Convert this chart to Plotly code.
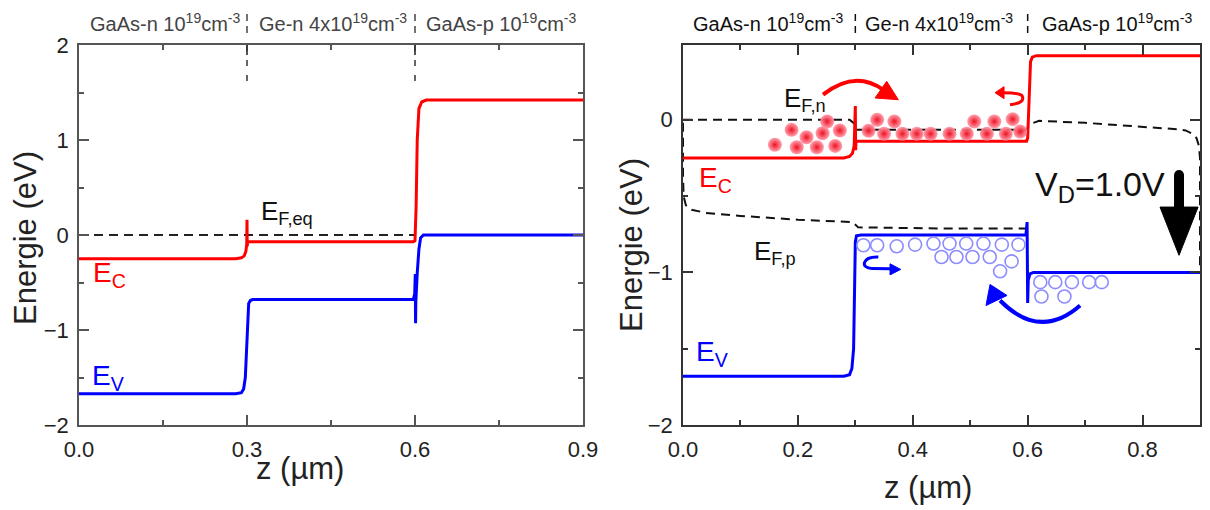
import plotly.graph_objects as go

# ---------------- data: left panel (equilibrium) ----------------
z_ec_eq = [0.0, 0.28, 0.29, 0.295, 0.298, 0.2995, 0.3, 0.3004, 0.301, 0.303, 0.597, 0.600, 0.602, 0.604, 0.607, 0.612, 0.62, 0.9]
e_ec_eq = [-0.25, -0.25, -0.24, -0.22, -0.17, -0.10, 0.16, -0.12, -0.075, -0.07, -0.07, -0.06, 0.3, 1.0, 1.33, 1.40, 1.42, 1.42]
z_ev_eq = [0.0, 0.28, 0.29, 0.294, 0.297, 0.299, 0.301, 0.303, 0.306, 0.31, 0.597, 0.5995, 0.6005, 0.601, 0.6015, 0.604, 0.607, 0.61, 0.615, 0.9]
e_ev_eq = [-1.67, -1.67, -1.66, -1.62, -1.50, -1.20, -0.85, -0.72, -0.69, -0.68, -0.68, -0.62, -0.41, -0.93, -0.70, -0.40, -0.15, -0.03, 0.0, 0.0]
z_ef_eq = [0.0, 0.6]
e_ef_eq = [0.0, 0.0]

# ---------------- data: right panel (V_D = 1.0 V) ----------------
z_ec_b = [0.0, 0.28, 0.29, 0.295, 0.298, 0.2995, 0.3, 0.3005, 0.301, 0.303, 0.598, 0.600, 0.6015, 0.603, 0.605, 0.608, 0.615, 0.9]
e_ec_b = [-0.25, -0.25, -0.24, -0.22, -0.17, -0.05, 0.09, -0.20, -0.15, -0.14, -0.14, -0.12, 0.05, 0.30, 0.38, 0.41, 0.42, 0.42]
z_ev_b = [0.0, 0.28, 0.29, 0.294, 0.297, 0.299, 0.3, 0.302, 0.31, 0.597, 0.599, 0.6, 0.601, 0.604, 0.61, 0.9]
e_ev_b = [-1.68, -1.68, -1.67, -1.63, -1.50, -1.10, -0.80, -0.76, -0.755, -0.755, -0.67, -1.20, -1.05, -1.01, -1.0, -1.0]
z_efn = [0.0, 0.29, 0.3, 0.302, 0.45, 0.598, 0.603, 0.62, 0.7, 0.8, 0.86, 0.875, 0.886, 0.894, 0.898, 0.9, 0.9]
e_efn = [0.0, 0.0, -0.03, -0.066, -0.066, -0.066, -0.03, -0.007, -0.02, -0.045, -0.062, -0.07, -0.09, -0.12, -0.17, -0.25, -1.0]
z_efp = [0.6, 0.45, 0.305, 0.295, 0.2, 0.1, 0.04, 0.015, 0.005, 0.001, 0.0, 0.0]
e_efp = [-0.713, -0.712, -0.705, -0.67, -0.655, -0.63, -0.61, -0.59, -0.56, -0.50, -0.35, 0.0]

electron_z = [0.160, 0.189, 0.198, 0.215, 0.233, 0.243, 0.251, 0.265, 0.273, 0.323, 0.338, 0.350, 0.368,
              0.382, 0.407, 0.431, 0.464, 0.494, 0.507, 0.529, 0.542, 0.562, 0.574, 0.587]
electron_e = [-0.164, -0.066, -0.180, -0.114, -0.180, -0.088, -0.011, -0.171, -0.070, -0.072, 0.0, -0.092, -0.011,
              -0.092, -0.092, -0.092, -0.092, -0.092, -0.011, -0.092, -0.011, -0.092, 0.004, -0.077]
hole_z = [0.314, 0.338, 0.372, 0.404, 0.436, 0.464, 0.493, 0.523, 0.555, 0.584,
          0.450, 0.476, 0.504, 0.534, 0.572, 0.552,
          0.622, 0.648, 0.677, 0.707, 0.729, 0.624, 0.664]
hole_e = [-0.822, -0.822, -0.829, -0.818, -0.811, -0.811, -0.811, -0.811, -0.818, -0.818,
          -0.899, -0.899, -0.899, -0.899, -0.928, -0.993,
          -1.064, -1.064, -1.064, -1.064, -1.064, -1.158, -1.158]

region_labels = ["GaAs-n 10<sup>19</sup>cm<sup>-3</sup>",
                 "Ge-n 4x10<sup>19</sup>cm<sup>-3</sup>",
                 "GaAs-p 10<sup>19</sup>cm<sup>-3</sup>"]
region_centers_left = [0.154, 0.454, 0.754]
region_centers_right = [0.148, 0.446, 0.757]
region_bounds = [0.3, 0.6]

x_ticks_left = [0.0, 0.3, 0.6, 0.9]
x_ticks_right = [0.0, 0.2, 0.4, 0.6, 0.8]

# decorative arrows (right panel, data coordinates)
red_arc = [(0.2437, 0.1645), (0.2994, 0.329), (0.3482, 0.197)]
red_arc_head = [(0.3546, 0.252), (0.3748, 0.1316), (0.3343, 0.1428)]
red_u = [(0.5693, 0.0987), (0.5971, 0.1118), (0.5902, 0.1579), (0.5850, 0.1776), (0.5571, 0.1776)]
red_u_head = [(0.5432, 0.1776), (0.5589, 0.2171), (0.5589, 0.1382)]
blue_u = [(0.340, -0.899), (0.3116, -0.8947), (0.3081, -0.9737), (0.3290, -0.9737), (0.3604, -0.9757)]
blue_u_head = [(0.3790, -0.9803), (0.3604, -0.944), (0.3604, -1.0164)]
blue_arc = [(0.6912, -1.2171), (0.6215, -1.4474), (0.5519, -1.1842)]
blue_arc_head = [(0.5345, -1.0789), (0.5275, -1.2171), (0.5641, -1.1513)]
vd_arrow_shaft = [(0.8635, -0.362), (0.8635, -0.60)]
vd_arrow_cap = [(0.8548, -0.395), (0.8722, -0.329)]
vd_arrow_head = [(0.8304, -0.572), (0.8966, -0.572), (0.8635, -0.888)]

FONT = "Arial, Liberation Sans, sans-serif"
RED = "#ff0000"
BLUE = "#0000ff"
W, H = 1210, 510
OFF = 8  # page body margin of the browser
PL = (79 - OFF, 583 - OFF)
PR = (683 - OFF, 1200 - OFF)
PT, PB = 45 - OFF, 425 - OFF


def px(xs):
    return (xs - OFF) / W


def py(ys):
    return 1 - (ys - OFF) / H


fig = go.Figure()

# left panel
fig.add_trace(go.Scatter(x=z_ef_eq, y=e_ef_eq, mode="lines", line=dict(color="#222", width=2, dash="9px,6px"),
                         xaxis="x", yaxis="y", showlegend=False))
fig.add_trace(go.Scatter(x=z_ec_eq, y=e_ec_eq, mode="lines", line=dict(color=RED, width=3),
                         xaxis="x", yaxis="y", showlegend=False))
fig.add_trace(go.Scatter(x=z_ev_eq, y=e_ev_eq, mode="lines", line=dict(color=BLUE, width=3),
                         xaxis="x", yaxis="y", showlegend=False))

# right panel
fig.add_trace(go.Scatter(x=z_efn, y=e_efn, mode="lines", line=dict(color="#111", width=2, dash="9px,6px"),
                         xaxis="x2", yaxis="y2", showlegend=False))
fig.add_trace(go.Scatter(x=z_efp, y=e_efp, mode="lines", line=dict(color="#111", width=2, dash="9px,6px"),
                         xaxis="x2", yaxis="y2", showlegend=False))
fig.add_trace(go.Scatter(x=z_ec_b, y=e_ec_b, mode="lines", line=dict(color=RED, width=3),
                         xaxis="x2", yaxis="y2", showlegend=False))
fig.add_trace(go.Scatter(x=z_ev_b, y=e_ev_b, mode="lines", line=dict(color=BLUE, width=3),
                         xaxis="x2", yaxis="y2", showlegend=False))
fig.add_trace(go.Scatter(x=electron_z, y=electron_e, mode="markers",
                         marker=dict(size=14, color="rgba(255,150,165,0.9)", line=dict(width=0),
                                     gradient=dict(type="radial", color="#ee1020")),
                         xaxis="x2", yaxis="y2", showlegend=False))
fig.add_trace(go.Scatter(x=hole_z, y=hole_e, mode="markers",
                         marker=dict(size=13, symbol="circle-open", color="#8c8cff", line=dict(width=1.6, color="#8c8cff")),
                         xaxis="x2", yaxis="y2", showlegend=False))


def axis_common(color):
    return dict(showline=True, linecolor=color, linewidth=1.5, mirror="allticks", ticks="inside",
                ticklen=10, tickwidth=1.5, tickcolor=color, showgrid=False, zeroline=False, automargin=False,
                tickfont=dict(family=FONT, size=22, color="#222"))


xl = axis_common("#555")
xl.update(domain=[PL[0] / W, PL[1] / W], range=[0, 0.9], tickvals=x_ticks_left,
          ticktext=[f"{v:.1f}" for v in x_ticks_left], anchor="y", ticklabelstandoff=4,
          minor=dict(ticks="inside", ticklen=5, tickwidth=1.5, tickcolor="#555", dtick=0.15, tick0=0))
yl = axis_common("#555")
yl.update(domain=[1 - PB / H, 1 - PT / H], range=[-2, 2], dtick=1, anchor="x", ticklabelstandoff=4,
          minor=dict(ticks="inside", ticklen=5, tickwidth=1.5, tickcolor="#555", dtick=0.5, tick0=0))
xr = axis_common("#333")
xr.update(domain=[PR[0] / W, PR[1] / W], range=[0, 0.9], tickvals=x_ticks_right,
          ticktext=[f"{v:.1f}" for v in x_ticks_right], anchor="y2", ticklabelstandoff=4,
          minor=dict(ticks="inside", ticklen=5, tickwidth=1.5, tickcolor="#333", dtick=0.1, tick0=0))
yr = axis_common("#333")
yr.update(domain=[1 - PB / H, 1 - PT / H], range=[-2, 0.49], dtick=1, anchor="x2", ticklabelstandoff=4,
          minor=dict(ticks="inside", ticklen=5, tickwidth=1.5, tickcolor="#333", dtick=0.5, tick0=0))

annotations = []
shapes = []

# region labels and separators
for centers, xref, col in [(region_centers_left, "x", "#444"), (region_centers_right, "x2", "#111")]:
    for c, lab in zip(centers, region_labels):
        annotations.append(dict(x=c, y=py(22), xref=xref, yref="paper", text=lab, showarrow=False,
                                font=dict(family=FONT, size=20, color=col), xanchor="center", yanchor="middle"))
    for b in region_bounds:
        shapes.append(dict(type="line", xref=xref, yref="paper", x0=b, x1=b, y0=py(33), y1=py(9),
                           line=dict(color=col, width=1.5, dash="7px,5px")))
for b in region_bounds:
    shapes.append(dict(type="line", xref="x", yref="y", x0=b, x1=b, y0=2.0, y1=1.6,
                       line=dict(color="#333", width=1.5, dash="6px,9px")))

# axis titles
for xc, yc, ang, txt in [(26, 238, -90, "Energie (eV)"), (631, 245, -90, "Energie (eV)"),
                         (300, 468, 0, "z (µm)"), (928, 487, 0, "z (µm)")]:
    annotations.append(dict(x=px(xc), y=py(yc), xref="paper", yref="paper", text=txt, showarrow=False,
                            textangle=ang, font=dict(family=FONT, size=31, color="#222"),
                            xanchor="center", yanchor="middle"))

# band labels
band_labels = [
    ("x", "y", 0.055, -0.42, "E<sub>C</sub>", RED, 28),
    ("x", "y", 0.052, -1.50, "E<sub>V</sub>", BLUE, 28),
    ("x", "y", 0.371, 0.24, "E<sub>F,eq</sub>", "#111", 26),
    ("x2", "y2", 0.057, -0.39, "E<sub>C</sub>", RED, 28),
    ("x2", "y2", 0.050, -1.53, "E<sub>V</sub>", BLUE, 28),
    ("x2", "y2", 0.212, 0.13, "E<sub>F,n</sub>", "#111", 26),
    ("x2", "y2", 0.160, -0.87, "E<sub>F,p</sub>", "#111", 26),
    ("x2", "y2", 0.726, -0.44, "V<sub>D</sub>=1.0V", "#111", 34),
]
for xref, yref, x, y, txt, col, size in band_labels:
    annotations.append(dict(x=x, y=y, xref=xref, yref=yref, text=txt, showarrow=False,
                            font=dict(family=FONT, size=size, color=col), xanchor="center", yanchor="middle"))


def pt(p):
    return f"{p[0]},{p[1]}"


def tri(pts, col):
    return dict(type="path", xref="x2", yref="y2", path=f"M {pt(pts[0])} L {pt(pts[1])} L {pt(pts[2])} Z",
                fillcolor=col, line=dict(color=col, width=1))


shapes.append(dict(type="path", xref="x2", yref="y2",
                   path=f"M {pt(red_arc[0])} Q {pt(red_arc[1])} {pt(red_arc[2])}", line=dict(color=RED, width=4)))
shapes.append(tri(red_arc_head, RED))
shapes.append(dict(type="path", xref="x2", yref="y2",
                   path=f"M {pt(red_u[0])} Q {pt(red_u[1])} {pt(red_u[2])} Q {pt(red_u[3])} {pt(red_u[4])}",
                   line=dict(color=RED, width=3)))
shapes.append(tri(red_u_head, RED))
shapes.append(dict(type="path", xref="x2", yref="y2",
                   path=f"M {pt(blue_u[0])} C {pt(blue_u[1])} {pt(blue_u[2])} {pt(blue_u[3])} L {pt(blue_u[4])}",
                   line=dict(color=BLUE, width=3)))
shapes.append(tri(blue_u_head, BLUE))
shapes.append(dict(type="path", xref="x2", yref="y2",
                   path=f"M {pt(blue_arc[0])} Q {pt(blue_arc[1])} {pt(blue_arc[2])}", line=dict(color=BLUE, width=4)))
shapes.append(tri(blue_arc_head, BLUE))
shapes.append(dict(type="line", xref="x2", yref="y2", x0=vd_arrow_shaft[0][0], y0=vd_arrow_shaft[0][1],
                   x1=vd_arrow_shaft[1][0], y1=vd_arrow_shaft[1][1], line=dict(color="#000", width=10)))
shapes.append(dict(type="circle", xref="x2", yref="y2", x0=vd_arrow_cap[0][0], y0=vd_arrow_cap[0][1],
                   x1=vd_arrow_cap[1][0], y1=vd_arrow_cap[1][1], fillcolor="#000", line=dict(width=0)))
shapes.append(tri(vd_arrow_head, "#000"))

fig.update_layout(
    width=W, height=H, margin=dict(l=0, r=0, t=0, b=0),
    paper_bgcolor="white", plot_bgcolor="white",
    xaxis=xl, yaxis=yl, xaxis2=xr, yaxis2=yr,
    annotations=annotations, shapes=shapes, showlegend=False,
    font=dict(family=FONT),
)

fig.write_html("out.html")
